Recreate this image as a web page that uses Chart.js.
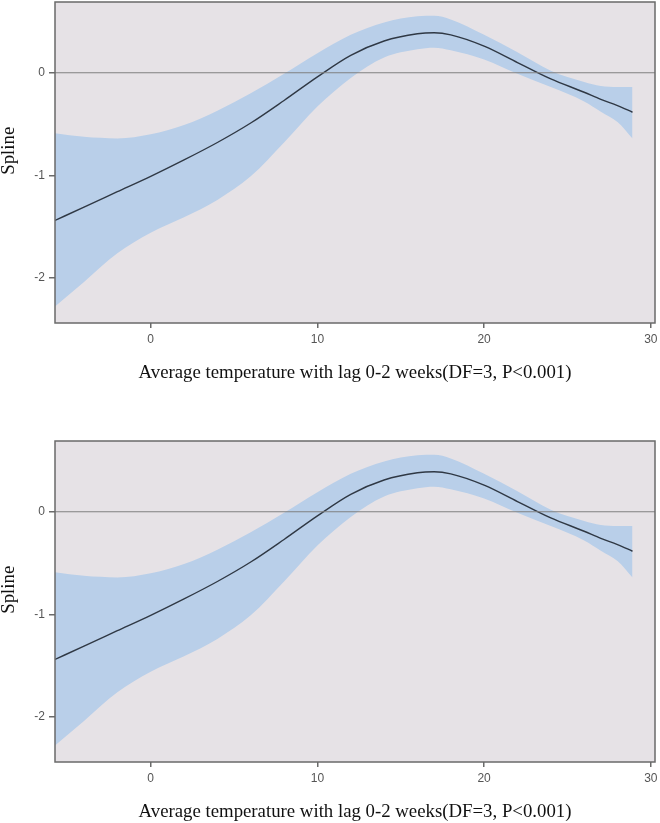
<!DOCTYPE html>
<html>
<head>
<meta charset="utf-8">
<script src="https://cdn.jsdelivr.net/npm/chart.js@4.4.1/dist/chart.umd.min.js"></script>
<style>
  body { margin: 0; background: #fff; }
  #wrap { position: relative; width: 660px; height: 823px; overflow: hidden; }
  .panel { position: absolute; left: 0; width: 660px; height: 384px; }
</style>
</head>
<body>
<div id="wrap">
  <div class="panel" style="top:0px"><canvas id="top" width="660" height="384"></canvas></div>
  <div class="panel" style="top:439px"><canvas id="bottom" width="660" height="384"></canvas></div>
</div>
<script>
// temperature (x) and spline estimate with its confidence band
var temps = [-5.74, -4, -2, 0, 2, 4, 6, 8, 10, 12, 14, 16, 17, 18, 20, 22, 24, 26, 27, 28, 28.9];
var fit   = [-1.44, -1.31, -1.16, -1.01, -0.85, -0.68, -0.49, -0.27, -0.04, 0.17, 0.31, 0.38, 0.39, 0.37, 0.26, 0.10, -0.06, -0.19, -0.26, -0.32, -0.385];
var upper = [-0.59, -0.625, -0.64, -0.60, -0.51, -0.37, -0.20, -0.01, 0.19, 0.37, 0.49, 0.55, 0.555, 0.52, 0.37, 0.20, 0.02, -0.09, -0.13, -0.14, -0.14];
var lower = [-2.28, -2.04, -1.76, -1.56, -1.41, -1.24, -1.01, -0.68, -0.33, -0.05, 0.15, 0.23, 0.245, 0.22, 0.13, -0.01, -0.14, -0.28, -0.38, -0.48, -0.64];
var xTicks = [0, 10, 20, 30];
var yTicks = [-2, -1, 0];
var xTitle = "Average temperature with lag 0-2 weeks(DF=3, P<0.001)";
var yTitle = "\u00a0\u00a0\u00a0\u00a0\u00a0Spline";

function pts(ys) {
    return temps.map(function (t, i) { return { x: t, y: ys[i] }; });
}

var frame = {
    id: "frame",
    beforeDatasetsDraw: function (chart) {
        var a = chart.chartArea, ctx = chart.ctx;
        ctx.save();
        ctx.fillStyle = "#e6e2e6";
        ctx.fillRect(a.left, a.top, a.right - a.left, a.bottom - a.top);
        ctx.restore();
    },
    afterDatasetsDraw: function (chart) {
        var a = chart.chartArea, ctx = chart.ctx;
        var y0 = chart.scales.y.getPixelForValue(0);
        ctx.save();
        ctx.strokeStyle = "#808080";
        ctx.lineWidth = 1;
        ctx.beginPath();
        ctx.moveTo(a.left, y0);
        ctx.lineTo(a.right, y0);
        ctx.stroke();
        ctx.strokeStyle = "#6a6a6a";
        ctx.lineWidth = 1.5;
        ctx.strokeRect(a.left, a.top, a.right - a.left, a.bottom - a.top);
        ctx.restore();
    }
};

function makeChart(id) {
    var ctx = document.getElementById(id).getContext("2d");
    return new Chart(ctx, {
        type: "line",
        data: {
            datasets: [
                { data: pts(upper), order: 2, borderWidth: 0, pointRadius: 0, fill: "+1", backgroundColor: "#b9cfe9", cubicInterpolationMode: "monotone" },
                { data: pts(lower), order: 2, borderWidth: 0, pointRadius: 0, fill: false, cubicInterpolationMode: "monotone" },
                { data: pts(fit), order: 0, borderColor: "#2f3844", borderWidth: 1.4, pointRadius: 0, fill: false, cubicInterpolationMode: "monotone" }
            ]
        },
        options: {
            responsive: false,
            animation: false,
            layout: { padding: { top: 2, right: 5, left: 0, bottom: 0 } },
            plugins: { legend: { display: false }, tooltip: { enabled: false } },
            scales: {
                x: {
                    type: "linear",
                    min: -5.74,
                    max: 30.25,
                    afterBuildTicks: function (axis) {
                        axis.ticks = xTicks.map(function (v) { return { value: v }; });
                    },
                    afterFit: function (axis) {
                        axis.height = 61;
                        axis.paddingLeft = 0;
                        axis.paddingRight = 0;
                    },
                    grid: { display: true, drawOnChartArea: false, drawTicks: true, tickLength: 5, color: "#6a6a6a", lineWidth: 1.5 },
                    border: { display: false },
                    ticks: { color: "#555", padding: 4, font: { family: "Liberation Sans", size: 12 } },
                    title: { display: true, text: xTitle, color: "#111", padding: 0, font: { family: "Liberation Serif", size: 18.8, lineHeight: 1.2 } }
                },
                y: {
                    min: -2.44,
                    max: 0.69,
                    afterBuildTicks: function (axis) {
                        axis.ticks = yTicks.map(function (v) { return { value: v }; });
                    },
                    afterFit: function (axis) {
                        axis.width = 55;
                        axis.paddingTop = 0;
                        axis.paddingBottom = 0;
                    },
                    grid: { display: true, drawOnChartArea: false, drawTicks: true, tickLength: 6, color: "#6a6a6a", lineWidth: 1.5 },
                    border: { display: false },
                    ticks: { color: "#555", padding: 4, font: { family: "Liberation Sans", size: 12 } },
                    title: { display: true, text: yTitle, color: "#111", padding: 0, font: { family: "Liberation Serif", size: 18.8, lineHeight: 1 } }
                }
            }
        },
        plugins: [frame]
    });
}

makeChart("top");
makeChart("bottom");
</script>
</body>
</html>
